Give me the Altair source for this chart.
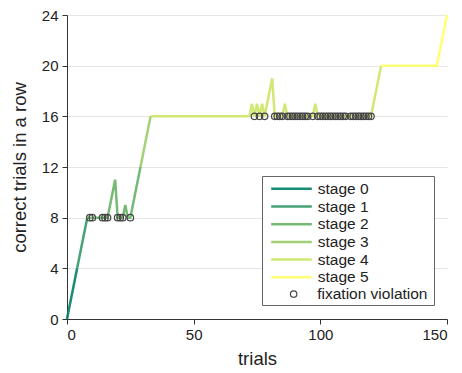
import altair as alt
import pandas as pd

# line vertices (trial, correct-in-a-row)
line_trials = [0, 4, 8, 16, 19, 20, 22, 23, 24, 25, 29, 33, 72, 73, 74, 75, 76, 77, 78, 81, 82,
               85, 86, 87, 97, 98, 99, 120, 124, 146, 150]
line_values = [0, 4, 8, 8, 11, 8, 8, 9, 8, 8, 12, 16, 16, 17, 16, 17, 16, 17, 16, 19, 16,
               16, 17, 16, 16, 17, 16, 16, 20, 20, 24]

stage_names = ["stage 0", "stage 1", "stage 2", "stage 3", "stage 4", "stage 5"]
stage_start = [0, 4, 8, 29, 33, 124]
stage_colors = ["#008066", "#339966", "#66b366", "#99cc66", "#cce666", "#ffff66"]

viol_trials = [9, 10, 14, 15, 16, 20, 21, 22, 25,
               74, 76, 78, 82, 83, 84, 85, 87, 88, 89, 90, 91, 92, 93, 94, 95, 97,
               99, 100, 101, 102, 103, 104, 105, 106, 107, 108, 109, 110,
               112, 113, 114, 115, 116, 117, 118, 119, 120]
viol_values = [8] * 9 + [16] * 38

x_ticks = [0, 50, 100, 150]
y_ticks = [0, 4, 8, 12, 16, 20, 24]

rows = []
for i, name in enumerate(stage_names):
    s = stage_start[i]
    e = stage_start[i + 1] if i + 1 < len(stage_start) else 10**6
    for t, v in zip(line_trials, line_values):
        if s <= t <= e:
            rows.append({"trial": t, "value": v, "stage": name})
line_df = pd.DataFrame(rows)
viol_df = pd.DataFrame({"trial": viol_trials, "value": viol_values,
                        "kind": ["fixation violation"] * len(viol_trials)})

FONT = "Liberation Sans"
xenc = alt.X("trial:Q", scale=alt.Scale(domain=[0, 150], nice=False),
             axis=alt.Axis(values=x_ticks, title="trials", grid=False))
yenc = alt.Y("value:Q", scale=alt.Scale(domain=[0, 24], nice=False),
             axis=alt.Axis(values=y_ticks, title="correct trials in a row", grid=True))

box = alt.Chart(pd.DataFrame({"a": [0]})).mark_rect(
    fill="white", stroke="#666666", strokeWidth=1
).encode(x=alt.value(195.5), x2=alt.value(367.5), y=alt.value(161.5), y2=alt.value(290.5))

lines = alt.Chart(line_df).mark_line(strokeWidth=2.5, opacity=0.9).encode(
    x=xenc, y=yenc,
    color=alt.Color("stage:N",
                    scale=alt.Scale(domain=stage_names, range=stage_colors),
                    legend=alt.Legend(title=None, orient="none", legendX=216, legendY=165.3,
                                      symbolType="M-2.9,0L2.9,0", symbolSize=196,
                                      symbolStrokeWidth=2.5, labelOffset=17.7,
                                      rowPadding=0.7, padding=0, labelFontSize=15.5,
                                      labelFont=FONT, labelColor="#222222")),
    order="trial:Q",
)

points = alt.Chart(viol_df).mark_point(shape="circle", filled=False, size=42,
                                        stroke="#444444", strokeWidth=1.2, opacity=1).encode(
    x="trial:Q", y="value:Q",
    shape=alt.Shape("kind:N", scale=alt.Scale(domain=["fixation violation"], range=["circle"]),
                    legend=alt.Legend(title=None, orient="none", legendX=218.9, legendY=271.3,
                                      symbolSize=42, symbolStrokeColor="#444444",
                                      symbolFillColor="white", symbolStrokeWidth=1.2,
                                      labelOffset=15.8, padding=0, labelFontSize=15.5,
                                      labelFont=FONT, labelColor="#222222")),
)

chart = alt.layer(box, lines, points).properties(
    width=380, height=304,
    autosize=alt.AutoSizeParams(type="none"),
    padding={"left": 59, "top": 7, "right": 7, "bottom": 52},
).configure_view(stroke=None).configure_axis(
    labelFont=FONT, titleFont=FONT, labelFontSize=15, titleFontSize=18.5,
    titleFontWeight="normal", labelColor="#222222", titleColor="#222222",
    domainColor="#333333", tickColor="#333333", tickSize=5, labelPadding=4,
    gridColor="#e6e6e6", gridWidth=1, domainWidth=1,
).configure_axisY(titlePadding=12).configure_axisX(titlePadding=7, labelPadding=3)

chart.save("out.html", embed_options={"renderer": "svg", "actions": False})
